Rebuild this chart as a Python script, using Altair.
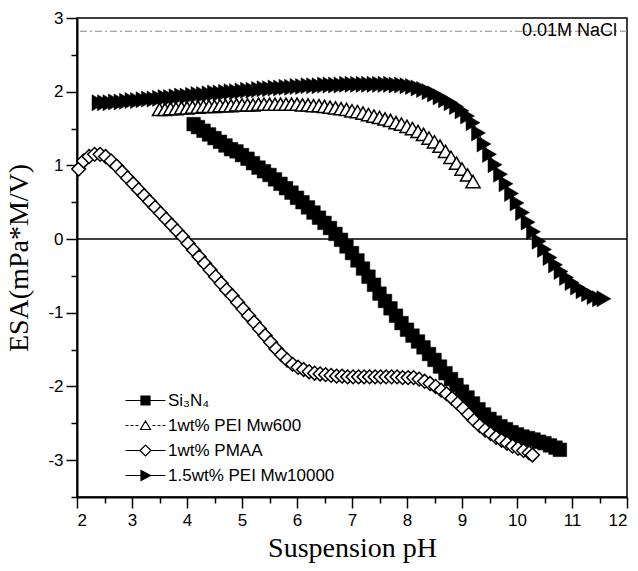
import altair as alt
import pandas as pd

SERIES = ["Si₃N₄", "1wt% PEI Mw600", "1wt% PMAA", "1.5wt% PEI Mw10000"]

SI_PH = [4.12, 4.2, 4.3, 4.4, 4.5, 4.6, 4.7, 4.8, 4.9, 5.0,
         5.1, 5.2, 5.3, 5.4, 5.5, 5.6, 5.7, 5.8, 5.9, 6.0,
         6.1, 6.2, 6.3, 6.4, 6.5, 6.6, 6.7, 6.8, 6.9, 7.0,
         7.1, 7.2, 7.3, 7.4, 7.5, 7.6, 7.7, 7.8, 7.9, 8.0,
         8.1, 8.2, 8.3, 8.4, 8.5, 8.6, 8.7, 8.8, 8.9, 9.0,
         9.1, 9.2, 9.3, 9.4, 9.5, 9.6, 9.7, 9.8, 9.9, 10.0,
         10.1, 10.2, 10.3, 10.4, 10.5, 10.6, 10.7, 10.78]
SI_ESA = [1.56, 1.52, 1.47, 1.42, 1.37, 1.32, 1.27, 1.22, 1.19, 1.14,
          1.09, 1.03, 0.97, 0.92, 0.87, 0.81, 0.75, 0.69, 0.63, 0.56,
          0.5, 0.43, 0.36, 0.29, 0.22, 0.15, 0.07, -0.01, -0.1, -0.19,
          -0.29, -0.4, -0.51, -0.62, -0.74, -0.84, -0.94, -1.04, -1.14, -1.23,
          -1.31, -1.39, -1.47, -1.56, -1.64, -1.73, -1.82, -1.9, -1.98, -2.07,
          -2.15, -2.23, -2.31, -2.38, -2.44, -2.49, -2.54, -2.58, -2.62, -2.65,
          -2.68, -2.7, -2.72, -2.75, -2.77, -2.8, -2.83, -2.86]

PEI600_PH = [3.5, 3.6, 3.7, 3.8, 3.9, 4.0, 4.1, 4.2, 4.3, 4.4,
             4.5, 4.6, 4.7, 4.8, 4.9, 5.0, 5.1, 5.2, 5.3, 5.4,
             5.5, 5.6, 5.7, 5.8, 5.9, 6.0, 6.1, 6.2, 6.3, 6.4,
             6.5, 6.6, 6.7, 6.8, 6.9, 7.0, 7.1, 7.2, 7.3, 7.4,
             7.5, 7.6, 7.7, 7.8, 7.9, 8.0, 8.1, 8.2, 8.3, 8.4,
             8.5, 8.6, 8.7, 8.8, 8.9, 9.0, 9.1, 9.2]
PEI600_ESA = [1.76, 1.76, 1.77, 1.77, 1.78, 1.78, 1.79, 1.79, 1.8, 1.8,
              1.8, 1.81, 1.81, 1.81, 1.82, 1.82, 1.82, 1.82, 1.83, 1.83,
              1.83, 1.83, 1.83, 1.83, 1.83, 1.83, 1.82, 1.82, 1.81, 1.81,
              1.8, 1.79, 1.78, 1.77, 1.76, 1.74, 1.73, 1.71, 1.69, 1.67,
              1.65, 1.63, 1.61, 1.58, 1.56, 1.53, 1.5, 1.46, 1.42, 1.37,
              1.32, 1.26, 1.19, 1.11, 1.03, 0.95, 0.87, 0.78]

PMAA_PH = [2.03, 2.12, 2.22, 2.32, 2.42, 2.52, 2.62, 2.72, 2.82, 2.92,
           3.02, 3.12, 3.22, 3.32, 3.42, 3.52, 3.62, 3.72, 3.82, 3.92,
           4.02, 4.12, 4.22, 4.32, 4.42, 4.52, 4.62, 4.72, 4.82, 4.92,
           5.02, 5.12, 5.22, 5.32, 5.42, 5.52, 5.62, 5.72, 5.82, 5.92,
           6.02, 6.12, 6.22, 6.32, 6.42, 6.52, 6.62, 6.72, 6.82, 6.92,
           7.02, 7.12, 7.22, 7.32, 7.42, 7.52, 7.62, 7.72, 7.82, 7.92,
           8.02, 8.12, 8.22, 8.32, 8.42, 8.52, 8.62, 8.72, 8.82, 8.92,
           9.02, 9.12, 9.22, 9.32, 9.42, 9.52, 9.62, 9.72, 9.82, 9.92,
           10.02, 10.12, 10.22, 10.28]
PMAA_ESA = [0.95, 1.06, 1.12, 1.15, 1.15, 1.12, 1.06, 0.99, 0.91, 0.83,
            0.75, 0.67, 0.59, 0.51, 0.43, 0.35, 0.27, 0.19, 0.11, 0.03,
            -0.06, -0.15, -0.24, -0.33, -0.42, -0.51, -0.6, -0.69, -0.77, -0.86,
            -0.95, -1.04, -1.13, -1.22, -1.31, -1.4, -1.49, -1.57, -1.64, -1.7,
            -1.74, -1.77, -1.8, -1.82, -1.83, -1.84, -1.85, -1.86, -1.86, -1.87,
            -1.87, -1.87, -1.87, -1.87, -1.87, -1.87, -1.87, -1.87, -1.87, -1.88,
            -1.88, -1.88, -1.9, -1.93, -1.96, -2.0, -2.05, -2.1, -2.16, -2.23,
            -2.3, -2.38, -2.46, -2.53, -2.59, -2.64, -2.69, -2.73, -2.77, -2.81,
            -2.84, -2.87, -2.9, -2.93]

PEI10K_PH = [2.4, 2.5, 2.6, 2.7, 2.8, 2.9, 3.0, 3.1, 3.2, 3.3,
             3.4, 3.5, 3.6, 3.7, 3.8, 3.9, 4.0, 4.1, 4.2, 4.3,
             4.4, 4.5, 4.6, 4.7, 4.8, 4.9, 5.0, 5.1, 5.2, 5.3,
             5.4, 5.5, 5.6, 5.7, 5.8, 5.9, 6.0, 6.1, 6.2, 6.3,
             6.4, 6.5, 6.6, 6.7, 6.8, 6.9, 7.0, 7.1, 7.2, 7.3,
             7.4, 7.5, 7.6, 7.7, 7.8, 7.9, 8.0, 8.1, 8.2, 8.3,
             8.4, 8.5, 8.6, 8.7, 8.8, 8.9, 9.0, 9.1, 9.2, 9.3,
             9.4, 9.5, 9.6, 9.7, 9.8, 9.9, 10.0, 10.1, 10.2, 10.3,
             10.4, 10.5, 10.6, 10.7, 10.8, 10.9, 11.0, 11.1, 11.2, 11.3,
             11.4, 11.5, 11.58]
PEI10K_ESA = [1.85, 1.85, 1.85, 1.86, 1.86, 1.87, 1.88, 1.88, 1.89, 1.9,
              1.9, 1.91, 1.92, 1.92, 1.93, 1.94, 1.94, 1.95, 1.96, 1.96,
              1.97, 1.98, 1.98, 1.99, 2.0, 2.0, 2.01, 2.02, 2.02, 2.03,
              2.04, 2.04, 2.05, 2.05, 2.06, 2.06, 2.07, 2.07, 2.08, 2.08,
              2.08, 2.09, 2.09, 2.09, 2.09, 2.1, 2.1, 2.1, 2.1, 2.1,
              2.1, 2.1, 2.1, 2.1, 2.09, 2.09, 2.08, 2.07, 2.05, 2.03,
              2.0, 1.97, 1.93, 1.89, 1.85, 1.8, 1.74, 1.67, 1.58, 1.44,
              1.29, 1.15, 1.01, 0.88, 0.75, 0.62, 0.49, 0.36, 0.23, 0.1,
              -0.03, -0.14, -0.25, -0.35, -0.44, -0.52, -0.59, -0.65, -0.7, -0.74,
              -0.78, -0.81, -0.81]

X_TICKS = [2, 2.5, 3, 3.5, 4, 4.5, 5, 5.5, 6, 6.5, 7, 7.5, 8, 8.5, 9, 9.5,
           10, 10.5, 11, 11.5, 12]
Y_TICKS = [-3.5, -3, -2.5, -2, -1.5, -1, -0.5, 0, 0.5, 1, 1.5, 2, 2.5, 3]
ZERO_LEVEL = [0]
NACL_LEVEL = [2.82]
NACL_TEXT = ["0.01M NaCl"]
NACL_TEXT_X = [11.82]

MAJOR = "datum.value % 1 == 0"
LABEL_EXPR = "datum.value % 1 == 0 ? '' + datum.value : ''"
TICK_SIZE = {"condition": {"test": MAJOR, "value": 11}, "value": 6}

x_enc = alt.X("pH:Q", scale=alt.Scale(domain=[2, 12], nice=False, zero=False),
              axis=alt.Axis(values=X_TICKS, labelExpr=LABEL_EXPR, tickSize=TICK_SIZE,
                            title="Suspension pH", titlePadding=6, labelPadding=4))
y_enc = alt.Y("ESA:Q", scale=alt.Scale(domain=[-3.5, 3], nice=False, zero=False),
              axis=alt.Axis(values=Y_TICKS, labelExpr=LABEL_EXPR, tickSize=TICK_SIZE,
                            title="ESA(mPa*M/V)", titlePadding=14, labelPadding=3))


def frame(ph, esa, name):
    return pd.DataFrame({"pH": ph, "ESA": esa, "series": name})


def layer(df, shape, fill, size, sw, dash=None):
    base = alt.Chart(df)
    lkw = dict(color="black", strokeWidth=1)
    if dash:
        lkw["strokeDash"] = dash
    line = base.mark_line(**lkw).encode(x=x_enc, y=y_enc)
    pts = base.mark_point(shape=shape, filled=True, fill=fill, stroke="black",
                          strokeWidth=sw, size=size, opacity=1).encode(x=x_enc, y=y_enc)
    return line + pts


df_si = frame(SI_PH, SI_ESA, SERIES[0])
df_600 = frame(PEI600_PH, PEI600_ESA, SERIES[1])
df_pmaa = frame(PMAA_PH, PMAA_ESA, SERIES[2])
df_10k = frame(PEI10K_PH, PEI10K_ESA, SERIES[3])

zero = alt.Chart(pd.DataFrame({"ESA": ZERO_LEVEL})).mark_rule(
    color="black", strokeWidth=1.5).encode(y=y_enc)
nacl = alt.Chart(pd.DataFrame({"ESA": NACL_LEVEL})).mark_rule(
    color="#8a8a8a", strokeWidth=1, strokeDash=[7, 3, 2, 3]).encode(y=y_enc)
nacl_txt = alt.Chart(pd.DataFrame({"pH": NACL_TEXT_X, "ESA": NACL_LEVEL, "t": NACL_TEXT})).mark_text(
    align="right", baseline="middle", font="Liberation Sans", fontSize=18, color="black"
).encode(x=x_enc, y=y_enc, text="t:N")

LEG_PATHS = [
    "M-4,0H-0.9M0.9,0H4M-0.9,-0.9H0.9V0.9H-0.9Z",
    "M-4,0H-3.4M-3,0H-2.4M-2,0H-1.4M1.4,0H2M2.4,0H3M3.4,0H4M0,-0.9L1,0.8L-1,0.8Z",
    "M-4,0H-1.1M1.1,0H4M-1.1,0L0,-1.1L1.1,0L0,1.1Z",
    "M-4,0H-0.9M1,0H4M-0.9,-1L1,0L-0.9,1Z",
]
LEG_FILLS = ["black", "white", "white", "black"]
LEG_STROKES = ["black", "black", "black", "black"]

leg_df = pd.concat([d.head(1) for d in (df_si, df_600, df_pmaa, df_10k)])
legend = alt.Legend(title=None, orient="none", legendX=40, legendY=374,
                    labelFont="Liberation Sans", labelFontSize=17, labelColor="black",
                    labelLimit=0, symbolSize=100, symbolStrokeWidth=1.2,
                    symbolOpacity=1,
                    symbolOffset=20, labelOffset=14, rowPadding=7, padding=0)
leg_layer = alt.Chart(leg_df).mark_point(opacity=0, strokeWidth=1.2, size=100).encode(
    x=x_enc, y=y_enc,
    shape=alt.Shape("series:N", scale=alt.Scale(domain=SERIES, range=LEG_PATHS), legend=legend),
    fill=alt.Fill("series:N", scale=alt.Scale(domain=SERIES, range=LEG_FILLS), legend=legend),
    stroke=alt.Stroke("series:N", scale=alt.Scale(domain=SERIES, range=LEG_STROKES), legend=legend),
)

chart = alt.layer(
    zero, nacl,
    layer(df_si, "square", "black", 185, 0.5),
    layer(df_600, "triangle-up", "white", 200, 1.5, [4, 2]),
    layer(df_pmaa, "diamond", "white", 190, 1.5),
    layer(df_10k, "triangle-right", "black", 260, 0.5),
    nacl_txt,
    leg_layer,
).properties(
    width=550, height=479,
    autosize=alt.AutoSizeParams(type="none"),
    padding={"left": 77, "top": 18, "right": 11, "bottom": 74},
    background="white",
).configure_view(
    stroke="black", strokeWidth=1.5
).configure_axis(
    grid=False, domainColor="black", domainWidth=2, tickColor="black", tickWidth=1.5,
    labelColor="black", titleColor="black", labelFont="Liberation Sans", labelFontSize=17,
    titleFont="Liberation Serif", titleFontSize=28, titleFontWeight="normal",
)

chart.save("out.html", embed_options={"renderer": "svg", "actions": False})
